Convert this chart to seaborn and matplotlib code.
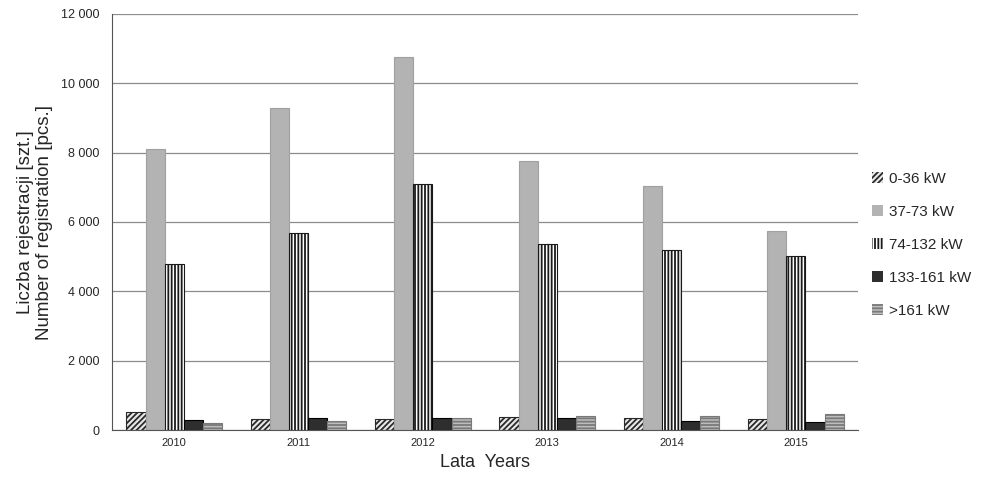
import matplotlib
matplotlib.use('Agg')
import matplotlib.pyplot as plt
from matplotlib.ticker import FuncFormatter, FixedLocator
from matplotlib.patches import Patch
import seaborn as sns
import pandas as pd
import numpy as np

# data
years = ['2010', '2011', '2012', '2013', '2014', '2015']
power_classes = ['0-36 kW', '37-73 kW', '74-132 kW', '133-161 kW', '>161 kW']
kw_0_36 = [530, 320, 310, 365, 355, 320]
kw_37_73 = [8100, 9300, 10750, 7750, 7050, 5750]
kw_74_132 = [4800, 5680, 7100, 5380, 5180, 5030]
kw_133_161 = [290, 355, 355, 345, 260, 230]
kw_161_up = [210, 270, 335, 400, 400, 460]

series = [kw_0_36, kw_37_73, kw_74_132, kw_133_161, kw_161_up]
rows = []
for name, vals in zip(power_classes, series):
    for y, v in zip(years, vals):
        rows.append({'year': y, 'class': name, 'count': v})
df = pd.DataFrame(rows)

faces = ['#e8e8e8', '#b3b3b3', 'white', '#2e2e2e', '#bdbdbd']
edges = ['#2a2a2a', '#a0a0a0', '#1a1a1a', '#000000', '#7a7a7a']
hatches = ['//////', '', '|||||', '', '-----']

sns.set_style('white')
plt.rcParams['font.family'] = ['Liberation Sans', 'DejaVu Sans']
plt.rcParams['hatch.linewidth'] = 1.3

fig = plt.figure(figsize=(9.92, 4.8), dpi=100)
ax = fig.add_axes([0.113, 0.104, 0.752, 0.867])

sns.barplot(data=df, x='year', y='count', hue='class', order=years,
            hue_order=power_classes, width=0.77, ax=ax, saturation=1,
            palette=faces, edgecolor='black', linewidth=0.6, legend=False)

for i, cont in enumerate(ax.containers):
    for bar in cont:
        bar.set_facecolor(faces[i])
        bar.set_edgecolor(edges[i])
        bar.set_hatch(hatches[i])
        bar.set_linewidth(0.8)

ax.set_ylim(0, 12000)
ax.set_xlim(-0.5, 5.5)
ax.set_yticks(np.arange(0, 12001, 2000))
ax.yaxis.set_major_formatter(FuncFormatter(lambda v, p: f'{int(v):,}'.replace(',', ' ')))
ax.yaxis.grid(True, color='#8c8c8c', linewidth=0.9)
ax.set_axisbelow(True)

for s in ['top', 'right']:
    ax.spines[s].set_visible(False)
ax.spines['left'].set_color('#555555')
ax.spines['bottom'].set_color('#555555')

ax.tick_params(axis='y', length=5, width=0.9, color='#555555', labelsize=9, pad=4)
ax.tick_params(axis='x', which='major', length=0, labelsize=8, pad=6)
ax.xaxis.set_minor_locator(FixedLocator(np.arange(-0.5, 6.0, 1.0)))
ax.tick_params(axis='x', which='minor', length=5, width=0.9, color='#555555')

ax.set_xlabel('Lata  Years', fontsize=13, labelpad=4)
ax.set_ylabel('Liczba rejestracji [szt.]\nNumber of registration [pcs.]', fontsize=13.5,
              labelpad=6, linespacing=1.1)

handles = [Patch(facecolor=faces[i], edgecolor=edges[i] if hatches[i] else faces[i],
                 hatch=hatches[i], linewidth=0) for i in range(len(power_classes))]
ax.legend(handles, power_classes, loc='center left', bbox_to_anchor=(1.0, 0.445),
          frameon=False, fontsize=11, handlelength=0.7, handleheight=0.7,
          labelspacing=1.25, handletextpad=0.4, borderaxespad=0.5)

fig.savefig('out.png', dpi=100)
